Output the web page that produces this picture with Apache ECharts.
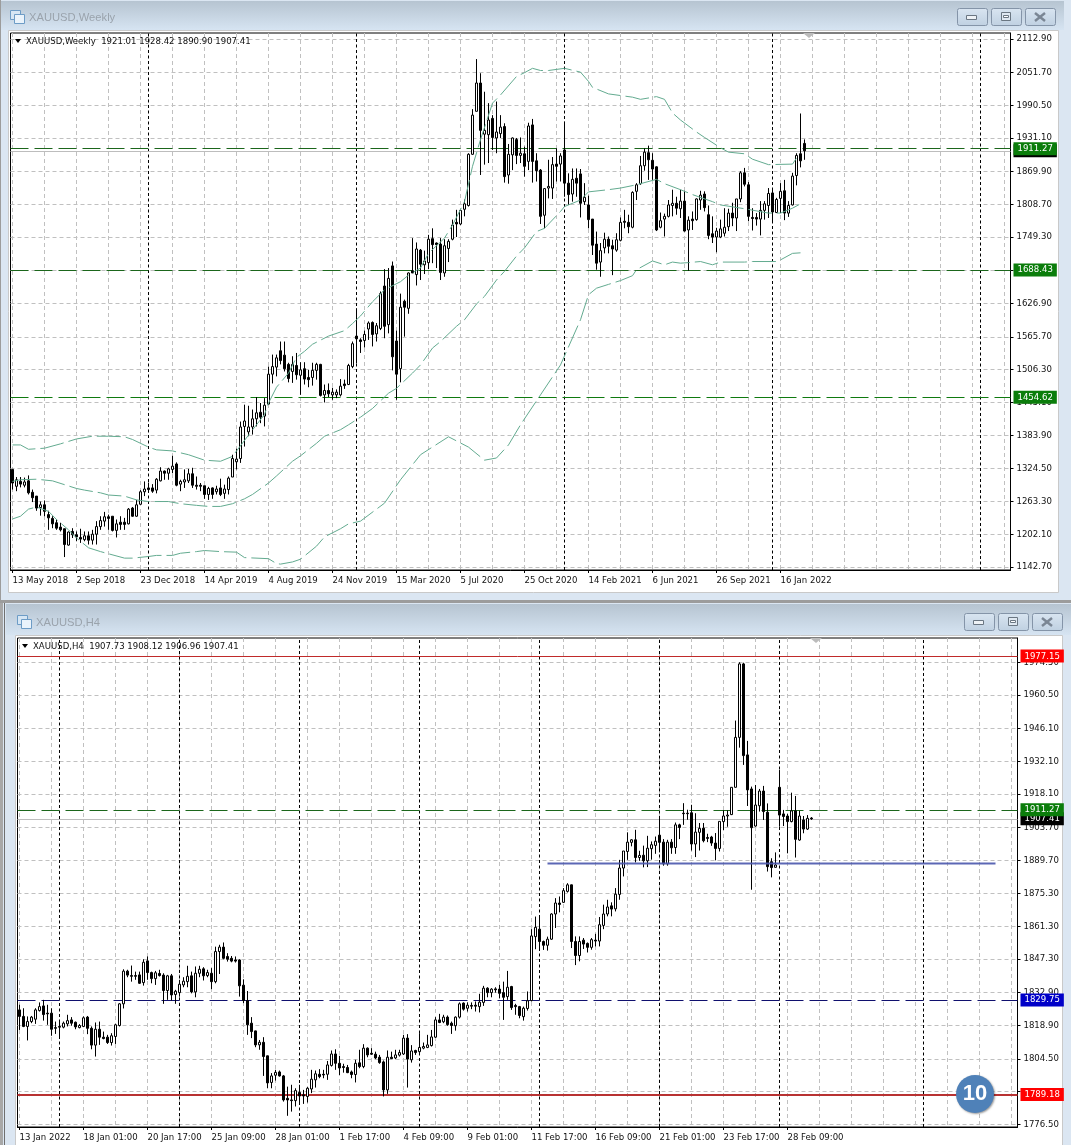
<!DOCTYPE html>
<html><head><meta charset="utf-8">
<style>html,body{margin:0;padding:0;background:#dbe6f2}#c{width:1071px;height:1145px}</style>
<script src="https://cdn.jsdelivr.net/npm/echarts@6/dist/echarts.min.js"></script>
</head><body><div id="c"></div>
<script>
// [open, close, low, high] per weekly bar
const weeklyBars=[
[1322,1297,1285,1323],[1291,1303,1282,1308],[1300,1295,1289,1308],[1293,1299,1289,1307],[1301,1279,1276,1311],
[1280,1270,1262,1285],[1273,1251,1246,1273],[1252,1257,1237,1263],[1257,1245,1236,1265],[1239,1233,1211,1246],
[1232,1222,1214,1236],[1224,1214,1211,1230],[1216,1211,1208,1224],[1213,1184,1161,1213],[1183,1207,1182,1208],
[1208,1202,1196,1214],[1202,1198,1190,1208],[1197,1194,1187,1213],[1193,1200,1190,1208],[1200,1192,1184,1208],
[1192,1203,1184,1211],[1203,1217,1184,1227],[1217,1228,1211,1236],[1227,1235,1217,1244],[1235,1232,1211,1239],
[1236,1210,1208,1236],[1210,1222,1197,1230],[1225,1221,1211,1236],[1225,1221,1211,1233],[1222,1249,1221,1251],
[1251,1236,1235,1253],[1236,1257,1235,1266],[1258,1281,1257,1284],[1281,1286,1273,1300],[1288,1285,1279,1298],
[1288,1282,1279,1295],[1284,1304,1278,1306],[1301,1319,1300,1326],[1319,1315,1303,1320],[1315,1323,1303,1325],
[1322,1328,1315,1347],[1332,1293,1291,1335],[1295,1300,1282,1303],[1299,1303,1288,1322],[1301,1314,1297,1323],
[1314,1293,1288,1325],[1293,1291,1285,1309],[1293,1291,1282,1297],[1292,1276,1268,1292],[1276,1287,1266,1290],
[1288,1276,1268,1289],[1281,1286,1276,1292],[1288,1276,1273,1305],[1278,1286,1268,1294],[1285,1306,1276,1309],
[1308,1342,1308,1349],[1336,1341,1322,1360],[1342,1400,1334,1410],[1401,1411,1364,1441],[1391,1400,1383,1439],
[1400,1415,1386,1432],[1415,1426,1401,1455],[1427,1418,1407,1444],[1420,1440,1401,1453],[1442,1497,1441,1511],
[1497,1511,1480,1533],[1510,1527,1493,1533],[1540,1522,1515,1557],[1532,1507,1502,1557],[1515,1489,1482,1518],
[1502,1515,1481,1530],[1513,1496,1487,1536],[1495,1505,1459,1519],[1507,1488,1478,1519],[1491,1487,1473,1505],
[1491,1504,1476,1518],[1504,1515,1487,1518],[1515,1458,1456,1516],[1459,1467,1445,1478],[1467,1461,1455,1480],
[1459,1464,1450,1472],[1459,1464,1453,1469],[1459,1475,1456,1488],[1479,1476,1470,1487],[1478,1513,1477,1516],
[1511,1553,1508,1557],[1567,1562,1517,1618],[1560,1557,1536,1563],[1559,1570,1546,1577],[1580,1591,1560,1594],
[1592,1570,1548,1594],[1571,1586,1557,1591],[1581,1645,1578,1649],[1659,1585,1563,1690],[1588,1673,1572,1692],
[1696,1529,1504,1704],[1558,1497,1450,1577],[1507,1620,1482,1645],[1631,1620,1566,1634],[1618,1683,1608,1684],
[1687,1683,1683,1747],[1680,1727,1660,1739],[1725,1699,1670,1727],[1698,1705,1681,1724],[1702,1745,1690,1753],
[1746,1735,1701,1765],[1738,1735,1692,1739],[1736,1684,1670,1747],[1683,1733,1676,1745],[1728,1741,1703,1745],
[1745,1771,1743,1781],[1776,1773,1749,1799],[1773,1798,1771,1800],[1800,1810,1787,1818],[1807,1901,1805,1903],
[1901,1973,1900,1984],[1980,2032,1980,2076],[2032,1945,1863,2050],[1938,1945,1882,2016],[1937,1964,1885,1995],
[1967,1932,1909,1973],[1931,1942,1903,1998],[1939,1951,1931,1973],[1952,1860,1849,1958],[1863,1901,1847,1920],
[1900,1931,1872,1932],[1928,1899,1883,1931],[1899,1903,1885,1932],[1902,1879,1860,1915],[1888,1953,1872,1959],
[1955,1888,1849,1966],[1889,1871,1851,1903],[1872,1787,1773,1874],[1789,1838,1765,1839],[1839,1842,1820,1891],
[1839,1882,1819,1896],[1883,1879,1851,1912],[1883,1898,1851,1903],[1909,1848,1823,1961],[1848,1827,1808,1866],
[1828,1855,1814,1875],[1857,1848,1823,1875],[1865,1811,1785,1874],[1814,1822,1808,1848],[1808,1781,1765,1825],
[1782,1734,1716,1782],[1736,1701,1689,1759],[1703,1724,1676,1738],[1729,1745,1719,1757],[1745,1732,1719,1750],
[1733,1727,1679,1744],[1725,1744,1722,1756],[1743,1776,1741,1785],[1778,1776,1765,1799],[1776,1768,1756,1790],
[1767,1831,1765,1833],[1833,1845,1817,1848],[1847,1880,1845,1898],[1880,1905,1871,1912],[1904,1891,1854,1917],
[1890,1874,1854,1903],[1878,1762,1760,1879],[1767,1779,1765,1794],[1782,1787,1750,1792],[1787,1808,1785,1817],
[1807,1811,1787,1836],[1811,1802,1790,1823],[1801,1815,1784,1836],[1815,1760,1759,1834],[1762,1780,1687,1787],
[1782,1779,1762,1796],[1781,1819,1779,1820],[1817,1826,1799,1834],[1828,1803,1796,1833],[1790,1752,1745,1807],
[1755,1749,1738,1787],[1749,1760,1721,1766],[1749,1764,1747,1781],[1756,1767,1750,1802],[1768,1793,1760,1801],
[1793,1784,1769,1812],[1784,1819,1760,1819],[1819,1867,1813,1870],[1867,1846,1842,1876],[1845,1787,1778,1850],
[1785,1783,1761,1802],[1785,1782,1770,1793],[1782,1798,1752,1815],[1798,1810,1781,1815],[1807,1829,1784,1839],
[1830,1795,1778,1837],[1794,1818,1793,1821],[1820,1833,1793,1848],[1834,1793,1780,1854],[1793,1807,1786,1815],
[1808,1861,1807,1867],[1862,1899,1844,1903],[1902,1889,1877,1976],[1921.01,1907.41,1890.90,1928.42]];

// Bollinger readings: [bar index, price]
const upperBand=[[0,1367],[2,1367],[4,1359],[6,1360],[8,1361],[12,1369],[16,1378],[20,1383],[24,1383],[28,1382],[30,1377],[34,1363],[36,1358],[40,1356],[44,1349],[48,1339],[52,1337],[55,1346],[59,1385],[63,1423],[64,1444],[66,1473],[69,1499],[71,1528],[73,1539],[75,1552],[79,1567],[83,1577],[85,1590],[87,1604],[90,1630],[93,1652],[97,1667],[99,1679],[102,1692],[104,1719],[108,1747],[110,1771],[113,1814],[115,1879],[117,1928],[120,1995],[122,2010],[126,2044],[128,2051],[130,2059],[132,2055],[134,2055],[138,2059],[142,2052],[144,2035],[145,2024],[149,2012],[155,2006],[157,2002],[161,2007],[163,2002],[165,1977],[167,1964],[171,1942],[173,1932],[177,1913],[179,1905],[183,1902],[185,1892],[189,1882],[195,1883],[196,1894],[197,1897]];
const middleBand=[[0,1300],[2,1303],[6,1304],[10,1301],[16,1287],[18,1284],[22,1279],[24,1275],[28,1273],[31,1266],[34,1263],[39,1263],[42,1259],[46,1256],[49,1254],[52,1254],[55,1259],[58,1268],[60,1276],[64,1297],[66,1310],[70,1337],[72,1347],[76,1370],[78,1383],[82,1395],[84,1404],[87,1418],[90,1434],[94,1462],[96,1471],[100,1499],[102,1514],[105,1545],[107,1557],[111,1585],[113,1597],[116,1626],[118,1640],[121,1670],[123,1686],[126,1714],[128,1729],[131,1759],[133,1765],[137,1796],[138,1805],[142,1817],[144,1832],[149,1836],[152,1839],[156,1845],[161,1855],[163,1847],[167,1836],[170,1827],[175,1814],[177,1808],[183,1801],[189,1793],[192,1793],[195,1802],[197,1810]];
const lowerBand=[[0,1231],[2,1236],[4,1249],[6,1253],[9,1245],[11,1230],[14,1211],[16,1196],[19,1178],[22,1171],[24,1167],[28,1159],[30,1159],[34,1162],[36,1164],[40,1164],[42,1168],[46,1171],[48,1173],[52,1171],[56,1170],[58,1160],[64,1158],[66,1149],[67,1148],[70,1152],[72,1157],[76,1181],[78,1198],[82,1213],[84,1222],[87,1227],[93,1260],[97,1303],[102,1349],[109,1382],[114,1363],[118,1339],[121,1343],[124,1367],[127,1404],[132,1459],[137,1514],[142,1597],[144,1643],[146,1655],[149,1662],[152,1669],[155,1678],[156,1689],[160,1705],[163,1698],[165,1703],[167,1701],[169,1702],[172,1704],[175,1698],[177,1703],[183,1703],[185,1704],[191,1704],[192,1707],[195,1719],[197,1720]];

// [open, close, low, high] per H4 bar
const h4Bars=[
[1825.5,1822.7,1816.9,1827.7],[1822.7,1818.4,1818.1,1826.2],[1818.4,1820.5,1812.4,1822.7],[1820.5,1822.4,1819.8,1822.9],[1821.5,1825.5,1819.5,1826.2],
[1825.2,1826.9,1824.8,1828.7],[1827.2,1823.5,1820.9,1829.8],[1824.1,1823.8,1819.1,1827.7],[1824.1,1817.2,1814.4,1826.2],[1817.9,1817.6,1815.2,1820.5],
[1818.4,1818.1,1813.4,1821.2],[1818.1,1819.8,1817.6,1820.5],[1819.5,1820.9,1818.4,1823.4],[1821.2,1819.8,1818.7,1822.4],[1820.2,1818.2,1817.2,1820.5],
[1817.9,1818.8,1817.6,1819.4],[1818.4,1822.1,1818.1,1822.7],[1822.4,1817.6,1815.1,1822.9],[1817.6,1810.4,1808.6,1818.4],[1810.4,1817.2,1805.5,1820.1],
[1817.2,1813.8,1810.5,1820.5],[1813.8,1813.2,1812.9,1816.2],[1813.8,1811.5,1810.9,1814.8],[1811.5,1814.4,1810.2,1815.5],[1814.1,1819.1,1810.9,1819.5],
[1818.8,1828.1,1818.4,1828.4],[1828.1,1842.1,1826.1,1842.9],[1842.1,1840.4,1839.5,1842.7],[1840.2,1839.9,1837.6,1844.5],[1840.2,1839.9,1838.4,1841.9],
[1840.5,1836.9,1836.6,1841.9],[1837.2,1845.9,1835.9,1847.2],[1846.5,1841.5,1838.4,1848.4],[1841.5,1838.9,1836.9,1841.9],[1838.9,1841.4,1836.2,1842.2],
[1841.1,1840.2,1839.8,1842.7],[1840.4,1833.8,1828.1,1841.2],[1833.8,1840.1,1829.8,1840.5],[1840.1,1831.9,1829.5,1840.9],[1832.1,1833.5,1828.1,1834.1],
[1832.9,1836.5,1831.2,1838.4],[1836.2,1837.8,1835.2,1839.5],[1837.6,1839.9,1835.2,1844.4],[1840.1,1833.2,1832.6,1841.9],[1833.2,1841.2,1830.9,1844.1],
[1841.2,1842.9,1839.5,1844.4],[1843.1,1840.1,1838.1,1843.8],[1840.2,1841.5,1839.5,1842.7],[1841.2,1837.6,1834.4,1843.4],[1837.6,1850.5,1836.9,1852.6],
[1850.5,1852.4,1840.9,1853.4],[1852.4,1847.6,1847.2,1854.4],[1848.4,1847.2,1846.2,1849.8],[1847.6,1846.4,1845.9,1848.6],[1846.9,1846.4,1845.8,1848.4],
[1846.9,1835.8,1831.2,1847.2],[1836.1,1829.5,1828.4,1838.6],[1829.5,1819.1,1814.8,1833.6],[1819.8,1816.2,1813.4,1822.4],[1816.5,1810.5,1809.5,1816.6],
[1810.5,1811.6,1808.4,1812.6],[1811.6,1805.5,1797.2,1813.8],[1805.8,1794.2,1791.9,1805.9],[1794.4,1797.2,1791.9,1798.4],[1797.5,1798.7,1795.2,1799.8],
[1798.9,1797.2,1796.9,1799.5],[1797.2,1786.9,1786.2,1797.6],[1787.6,1786.9,1780.1,1792.6],[1786.9,1786.6,1781.9,1793.4],[1786.6,1790.9,1784.1,1791.9],
[1790.1,1788.6,1785.5,1793.4],[1789.1,1788.6,1785.2,1791.2],[1788.4,1791.9,1785.8,1792.4],[1791.6,1795.8,1789.8,1799.8],[1795.5,1798.1,1792.2,1799.5],
[1797.9,1796.9,1796.2,1800.1],[1797.9,1797.6,1796.2,1799.8],[1797.9,1801.9,1795.5,1803.6],[1801.7,1806.6,1801.2,1808.1],[1806.6,1802.6,1799.8,1808.6],
[1802.6,1800.6,1797.6,1805.8],[1801.2,1800.8,1798.6,1802.4],[1800.8,1798.6,1798.4,1801.9],[1798.9,1797.8,1796.2,1799.5],[1797.8,1802.6,1794.4,1804.1],
[1802.8,1801.2,1800.5,1808.4],[1801.2,1809.1,1800.5,1810.8],[1809.1,1806.2,1805.2,1809.4],[1806.9,1806.5,1806.2,1809.1],[1806.5,1804.9,1804.4,1807.6],
[1805.2,1802.9,1802.4,1806.2],[1803.2,1791.2,1788.4,1803.8],[1791.2,1805.2,1789.5,1808.1],[1805.2,1804.6,1804.6,1807.6],[1804.9,1806.2,1804.4,1808.4],
[1806.1,1807.2,1805.5,1808.4],[1806.6,1813.4,1806.2,1814.8],[1813.4,1804.4,1792.2,1815.1],[1804.1,1807.9,1802.9,1810.4],[1808.1,1807.2,1806.2,1808.4],
[1807.6,1809.4,1806.2,1815.5],[1809.1,1809.8,1808.6,1811.5],[1809.4,1810.5,1809.1,1814.8],[1810.2,1813.9,1809.8,1816.9],[1813.8,1821.2,1813.5,1822.4],
[1821.2,1820.1,1819.8,1823.8],[1820.4,1822.4,1819.8,1823.4],[1822.4,1819.2,1818.7,1823.1],[1819.8,1818.8,1815.2,1820.5],[1818.7,1822.4,1816.6,1822.7],
[1822.4,1828.1,1821.8,1828.7],[1828.4,1825.8,1825.2,1828.7],[1826.2,1827.5,1824.8,1828.7],[1827.4,1827.1,1825.8,1828.7],[1827.5,1827.1,1824.8,1829.1],
[1826.9,1828.8,1824.4,1832.4],[1828.7,1834.8,1827.2,1835.8],[1834.8,1832.9,1830.9,1835.2],[1832.9,1834.4,1830.9,1834.8],[1834.5,1834.1,1832.9,1835.2],
[1834.4,1832.6,1830.5,1836.2],[1832.9,1830.9,1821.2,1837.6],[1831.2,1835.2,1829.8,1842.2],[1835.5,1826.5,1825.5,1835.8],[1827.4,1826.9,1823.4,1828.1],
[1826.9,1823.1,1821.9,1827.2],[1822.6,1826.2,1820.9,1826.9],[1826.1,1829.4,1825.2,1833.4],[1829.5,1857.2,1829.1,1860.1],[1856.9,1860.9,1851.5,1865.5],
[1860.1,1854.8,1851.2,1865.5],[1854.8,1853.2,1851.2,1855.2],[1853.2,1855.8,1850.9,1856.9],[1855.8,1866.6,1855.5,1866.9],[1866.6,1871.3,1860.6,1873.4],
[1871.3,1870.7,1867.3,1874.1],[1871.6,1876.6,1871.3,1877.7],[1876.3,1879.1,1875.8,1879.8],[1879.1,1854.8,1852,1879.2],[1854.8,1848.8,1844.7,1857],
[1848.8,1854.8,1846.3,1857],[1855.4,1853.7,1851.6,1856.3],[1854,1852.3,1850.1,1854.4],[1852.3,1855.6,1851.3,1856.3],[1855.4,1855,1852.7,1858.1],
[1855,1862,1852.7,1865.3],[1861.7,1866.6,1860.1,1870.6],[1866.6,1869.6,1865.6,1872.7],[1870.1,1868.7,1865.6,1871.6],[1868.8,1875.1,1867.7,1877.7],
[1875,1886.3,1872.7,1889.8],[1886.3,1893.6,1882.7,1893.6],[1893.4,1897.4,1889.8,1901.6],[1897.3,1898.4,1895.6,1898.7],[1898.4,1890.8,1888.7,1902.7],
[1890.8,1891.7,1889.4,1893.7],[1891.8,1889.4,1886.6,1895.9],[1889.4,1894.8,1886.7,1900.1],[1894.6,1896.3,1889.9,1897.7],[1896,1897.8,1892.4,1899.8],
[1900.4,1897.3,1893,1908.4],[1897.4,1888.1,1887.3,1898.7],[1888.1,1897.4,1887.3,1898.4],[1897.4,1895,1892.4,1898.7],[1895.1,1904.8,1892.4,1905.8],
[1904.8,1903.7,1898.7,1905.3],[1909.8,1909.6,1904.8,1914.1],[1909.8,1909.6,1907,1911.3],[1910,1896.6,1893.8,1913.4],[1896.6,1901.7,1891,1909.8],
[1901.6,1903.3,1893.8,1905.6],[1903.4,1898,1897.3,1905.6],[1899.4,1899,1897.4,1901],[1899.6,1897,1895.8,1900.1],[1897,1894.7,1889.6,1901.3],
[1894.7,1906.3,1893.4,1906.3],[1906.2,1908.6,1902.6,1911],[1908.6,1909,1904,1911],[1909.2,1920.9,1909,1921],[1920.9,1942.3,1920.8,1949.5],
[1942.3,1973.8,1937.9,1974.5],[1973.8,1934.5,1930.5,1974.3],[1934.8,1919.8,1912.9,1940.8],[1920.2,1903.6,1877,1921.2],[1904.3,1913.3,1904,1921.9],
[1913,1919.3,1910.5,1920.2],[1919.3,1910.5,1906.9,1921.5],[1910.2,1886.9,1884.8,1914],[1889,1886.5,1882.3,1890.5],[1886.6,1887.6,1886.5,1893],
[1920.9,1909,1904,1928.3],[1909.5,1908.4,1904.3,1911.2],[1908.6,1906.2,1892.6,1909.5],[1906.2,1910.8,1905.9,1918.6],[1910.8,1898.6,1890.8,1917.2],
[1898.3,1908.6,1898,1910.8],[1906.9,1903,1901.2,1908.6],[1903,1907.6,1902.6,1909],[1907.73,1907.41,1906.96,1908.12]];

const weeklyTickLabels=['13 May 2018','2 Sep 2018','23 Dec 2018','14 Apr 2019','4 Aug 2019','24 Nov 2019','15 Mar 2020','5 Jul 2020','25 Oct 2020','14 Feb 2021','6 Jun 2021','26 Sep 2021','16 Jan 2022'];
const h4TickLabels=['13 Jan 2022','18 Jan 01:00','20 Jan 17:00','25 Jan 09:00','28 Jan 01:00','1 Feb 17:00','4 Feb 09:00','9 Feb 01:00','11 Feb 17:00','16 Feb 09:00','21 Feb 01:00','23 Feb 17:00','28 Feb 09:00'];
const weeklyPrices=[2112.90,2051.70,1990.50,1931.10,1869.90,1808.70,1749.30,1688.10,1626.90,1565.70,1506.30,1445.10,1383.90,1324.50,1263.30,1202.10,1142.70];
const h4Prices=[1974.50,1960.50,1946.10,1932.10,1918.10,1903.70,1889.70,1875.30,1861.30,1847.30,1832.90,1818.90,1804.50,1790.50,1776.50];
const hiddenPriceLabels=[1688.10,1790.50]; // covered by the level tags in the picture
const weeklySeparators=[34,86,138,190,242];
const h4Separators=[10,40,70,100,130,160,190,226];
const weeklyLevels=[1911.27,1688.43,1454.62];
const lastPrice=1907.41;
const h4Resistance=1977.15, h4Green=1911.27, h4Navy=1829.75, h4Support=1789.18;
const h4Trend=[[132,1888.2],[244,1888.2]];

const FONT='"DejaVu Sans Condensed","Liberation Sans",Arial,sans-serif';
const TITLEFONT='"Liberation Sans",Arial,sans-serif';
const FS=9.5;
const SLOTS=250;
function cats(labels){const a=[];for(let i=0;i<SLOTS;i++)a.push(i%16===0&&labels[i/16]?labels[i/16]:'');return a;}
function xAxis(gi,labels){return {type:'category',gridIndex:gi,data:cats(labels),boundaryGap:true,
  axisLine:{show:true,onZero:false,lineStyle:{color:'#000',width:1}},
  axisTick:{show:true,length:3,alignWithLabel:true,interval:i=>i%16===0&&i<=192,lineStyle:{color:'#000'}},
  axisLabel:{show:true,interval:15,align:'left',margin:6,color:'#111',fontFamily:FONT,fontSize:FS,hideOverlap:false},
  splitLine:{show:true,alignWithLabel:true,interval:i=>i%8===0,lineStyle:{color:'#c0c0c0',type:[4,3],width:1}}};}
function yAxis(gi,prices,min,max){return {type:'value',gridIndex:gi,position:'right',min,max,scale:true,
  axisLine:{show:true,onZero:false,lineStyle:{color:'#000',width:1}},
  axisTick:{show:true,length:3,customValues:prices,lineStyle:{color:'#000'}},
  axisLabel:{show:true,customValues:prices.filter(p=>!hiddenPriceLabels.includes(p)),margin:6,padding:[6,0,0,0],color:'#111',fontFamily:FONT,fontSize:FS,formatter:v=>v.toFixed(2)},
  splitLine:{show:true,lineStyle:{color:'#c0c0c0',type:[4,3],width:1}}};}
function sepLines(list){return list.map(i=>({xAxis:i,lineStyle:{color:'#000',type:[3,2.5],width:1},label:{show:false}}));}
function level(v,color,bg,type,width){return {yAxis:v,lineStyle:{color,type,width},
  label:{show:true,position:'end',distance:3,formatter:v.toFixed(2),color:'#fff',backgroundColor:bg,padding:[2,4,1,4],fontFamily:FONT,fontSize:FS,align:'left'}};}
function candle(bars,xi,marks,name){return {type:'candlestick',name,xAxisIndex:xi,yAxisIndex:xi,data:bars,barWidth:3,z:3,large:false,silent:true,
  itemStyle:{color:'#fff',color0:'#000',borderColor:'#000',borderColor0:'#000',borderColorDoji:'#000',borderWidth:1},
  markLine:{silent:true,symbol:'none',z:1,animation:false,precision:2,data:marks}};}
function band(name,d){return {type:'line',name,xAxisIndex:0,yAxisIndex:0,data:d,showSymbol:false,symbol:'none',silent:true,z:4,
  lineStyle:{color:'#63ab90',width:1,type:[24,5]}};}

const weeklyMarks=[...sepLines(weeklySeparators),
  level(lastPrice,'#bdbdbd','#000','solid',1),
  level(weeklyLevels[0],'#1b661b','#0b7d0b',[18,6],1),
  level(weeklyLevels[1],'#1b661b','#0b7d0b',[18,6],1),
  level(weeklyLevels[2],'#0f7a0f','#0b7d0b',[18,6],1)];
const h4Marks=[...sepLines(h4Separators),
  level(lastPrice,'#bdbdbd','#000','solid',1),
  level(h4Green,'#1b661b','#0b7d0b',[18,6],1),
  level(h4Resistance,'#c02a2a','#f00','solid',1),
  level(h4Navy,'#10106e','#0000c8',[18,6],1),
  level(h4Support,'#b83232','#f00','solid',2)];

// window chrome
const g=[];
const Z=-5;
function rect(x,y,w,h,fill,stroke,r){g.push({type:'rect',silent:true,z:Z,shape:{x,y,width:w,height:h,r:r||0},style:{fill:fill||'none',stroke:stroke||'none',lineWidth:1}});}
function grad(a,b){return {type:'linear',x:0,y:0,x2:0,y2:1,colorStops:[{offset:0,color:a},{offset:1,color:b}]};}
function txt(x,y,s,color,size,fam){g.push({type:'text',silent:true,z:20,x,y,style:{text:s,fill:color,font:size+'px '+fam,textVerticalAlign:'middle'}});}
function tri(pts,fill){g.push({type:'polygon',silent:true,z:20,shape:{points:pts},style:{fill}});}
function line(x1,y1,x2,y2,c,w){g.push({type:'line',silent:true,z:Z,shape:{x1,y1,x2,y2},style:{stroke:c,lineWidth:w}});}
function win(x,y,w,clientX,clientY,clientW,clientH,btnX,btnY,name,header,triX,frameTop,frameLeft,iconX,iconY){
  rect(x,y,w,clientY-y,grad('#b6c4d1','#d6e4f2'));
  rect(clientX+.5,clientY+.5,clientW,clientH,'#fff','#c9c9c9');
  [0,34,68].forEach(d=>rect(btnX+d+.5,btnY+.5,30,17,grad('#d9e5f1','#bfd0e1'),'#8494a8',2));
  rect(btnX+9.5,btnY+7.5,10,4,'#eef2f6','#6a7682');
  rect(btnX+34+10.5,btnY+4.5,9,8,'#dfe8f1','#6a7682');
  rect(btnX+34+12.5,btnY+7.5,5,2,'#fff','#6a7682');
  line(btnX+68+10,btnY+5,btnX+68+20,btnY+13,'#7a8694',2.5);
  line(btnX+68+20,btnY+5,btnX+68+10,btnY+13,'#7a8694',2.5);
  rect(iconX+.5,iconY+.5,10,9,'#d6e6f4','#6d9cc6');
  rect(iconX+4.5,iconY+4.5,10,9,'#eaf3fb','#6d9cc6');
  txt(iconX+19,iconY+8,name,'#9aa3ac',11.2,TITLEFONT);
  txt(frameLeft+15,frameTop+8.5,header,'#111',FS,FONT);
  tri([[frameLeft+4,frameTop+6],[frameLeft+10,frameTop+6],[frameLeft+7,frameTop+10]],'#000');
  tri([[triX-6,frameTop],[triX+6,frameTop],[triX,frameTop+5]],'#bbb');
}
win(1,1,1063,8,30,1050,562,957,8,'XAUUSD,Weekly','XAUUSD,Weekly  1921.01 1928.42 1890.90 1907.41',809,33,11,10,10);
rect(0,600,1071,3,'#9c9c9c');
rect(0,0,1,600,'#9c9c9c');
rect(0,603,3,542,'#a8a8a8');
rect(4,603,1,542,'#6f6f6f');
win(6,604,1065,15,635,1047,512,964,613,'XAUUSD,H4','XAUUSD,H4  1907.73 1908.12 1906.96 1907.41',816,638,18,17,615);
g.push({type:'circle',silent:true,z:20,shape:{cx:975,cy:1094,r:19},style:{fill:'#4f81b8',shadowBlur:2,shadowColor:'rgba(0,0,0,.4)',shadowOffsetX:1,shadowOffsetY:1}});
g.push({type:'text',silent:true,z:21,x:975,y:1094,style:{text:'10',fill:'#fff',font:'bold 22px '+TITLEFONT,textAlign:'center',textVerticalAlign:'middle'}});

const chart=echarts.init(document.getElementById('c'),null,{renderer:'canvas'});
chart.setOption({animation:false,backgroundColor:'#dbe6f2',
  graphic:{elements:g},
  grid:[
    {left:10.5,top:33,width:1000,height:537,show:true,borderColor:'#000',borderWidth:1,backgroundColor:'transparent',containLabel:false},
    {left:17.5,top:638,width:1000,height:489,show:true,borderColor:'#000',borderWidth:1,backgroundColor:'transparent',containLabel:false}],
  xAxis:[xAxis(0,weeklyTickLabels),xAxis(1,h4TickLabels)],
  yAxis:[yAxis(0,weeklyPrices,1137.2,2123.9),yAxis(1,h4Prices,1775.3,1984.9)],
  series:[
    candle(weeklyBars,0,weeklyMarks,'XAUUSD,Weekly'),
    band('BB upper',upperBand),band('BB middle',middleBand),band('BB lower',lowerBand),
    candle(h4Bars,1,h4Marks,'XAUUSD,H4'),
    {type:'line',name:'Trend',xAxisIndex:1,yAxisIndex:1,data:h4Trend,showSymbol:false,symbol:'none',silent:true,z:4,lineStyle:{color:'#4a56ad',width:2,opacity:.9}}
  ]});
</script></body></html>
